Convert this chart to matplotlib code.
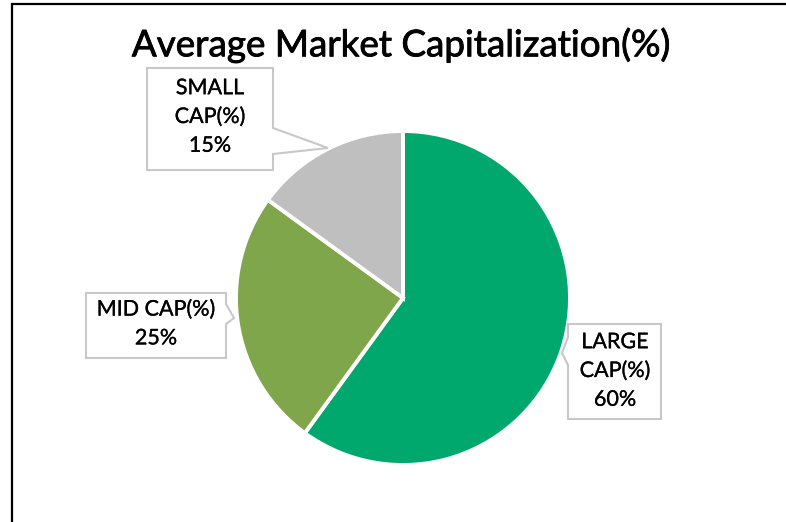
import numpy as np
import matplotlib.pyplot as plt
import matplotlib.patheffects as pe
from matplotlib.patches import Polygon

# data
labels = ['LARGE\nCAP(%)\n60%', 'MID CAP(%)\n25%', 'SMALL\nCAP(%)\n15%']
values = [60, 25, 15]
colors = ['#00A86E', '#7FA64B', '#BFBFBF']
title = 'Average Market Capitalization(%)'

W, H = 786, 522
plt.rcParams['font.family'] = ['Lato', 'DejaVu Sans']

fig = plt.figure(figsize=(W / 100, H / 100), dpi=100)
ax = fig.add_axes([0, 0, 1, 1])


def fy(y):
    # pixel row (from top) -> data y
    return H - y


ax.pie(values, colors=colors, startangle=90, counterclock=False,
       center=(403, fy(298)), radius=167,
       wedgeprops=dict(edgecolor='white', linewidth=2.8))

ax.set_xlim(0, W)
ax.set_ylim(0, H)
ax.set_aspect('equal')
ax.axis('off')

# outer frame (left and top only visible)
ax.plot([12, 12, W + 5], [fy(H + 5), fy(4), fy(4)], color='black', lw=1.6,
        solid_joinstyle='miter', clip_on=False)

ax.text(401, fy(45), title, ha='center', va='center', fontsize=26.5, color='black',
        path_effects=[pe.withStroke(linewidth=0.6, foreground='black')])

# callout outlines in pixel coords (box + pointer)
callouts = [
    # LARGE: pointer on the left side
    ([(568, 324), (661, 324), (661, 419), (568, 419), (568, 365), (562, 353), (568, 337)],
     (615, 371)),
    # MID: pointer on the right side
    ([(86, 293), (226, 293), (226, 304), (234, 318), (226, 324), (226, 358), (86, 358)],
     (156, 324)),
    # SMALL: pointer on the right side
    ([(147, 68), (273, 68), (273, 128), (328, 148), (273, 154), (273, 170), (147, 170)],
     (210, 117)),
]
for (pts, (tx, ty)), lab in zip(callouts, labels):
    poly = Polygon([(x, fy(y)) for x, y in pts], closed=True, facecolor='white',
                   edgecolor='#C8C8C8', lw=1.5, zorder=3)
    ax.add_patch(poly)
    ax.text(tx, fy(ty), lab, ha='center', va='center', fontsize=15.5,
            linespacing=1.55, color='black', zorder=4,
            path_effects=[pe.withStroke(linewidth=0.2, foreground='black')])

fig.savefig('out.png', dpi=100)
